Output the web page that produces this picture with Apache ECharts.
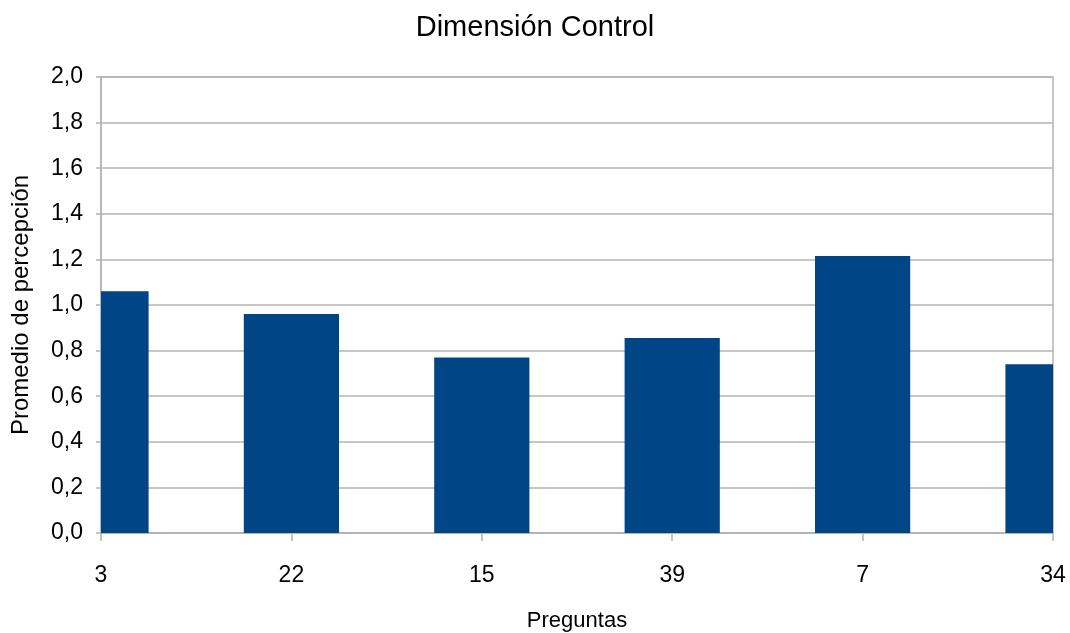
<!DOCTYPE html>
<html>
<head>
<meta charset="utf-8">
<script src="https://cdn.jsdelivr.net/npm/echarts@6/dist/echarts.min.js"></script>
<style>
  html, body { margin: 0; padding: 0; background: #ffffff; }
  #chart { width: 1070px; height: 633px; }
</style>
</head>
<body>
<div id="chart"></div>
<script>
// Question numbers along the x axis
const preguntas = ['3', '22', '15', '39', '7', '34'];
// Mean perception score per question
const promedios = [1.06, 0.96, 0.77, 0.855, 1.215, 0.74];
// Value axis range
const yMin = 0;
const yMax = 2.0;
const yStep = 0.2;

const FONT = '"Liberation Sans", Arial, sans-serif';
const GRID_GREY = '#b3b3b3';
const BAR_BLUE = '#004586';
const BAR_FRACTION = 0.5; // bar width as a share of the category spacing

const chart = echarts.init(document.getElementById('chart'), null, { renderer: 'canvas' });

// Bars centred on the category ticks, cut off at the plot edges
function renderBar(params, api) {
  const idx = api.value(0);
  const val = api.value(1);
  const top = api.coord([idx, val]);
  const base = api.coord([idx, yMin]);
  const bw = api.size([1, 0])[0] * BAR_FRACTION;
  const cs = params.coordSys;
  const shape = echarts.graphic.clipRectByRect(
    { x: top[0] - bw / 2, y: top[1], width: bw, height: base[1] - top[1] },
    { x: cs.x, y: cs.y, width: cs.width, height: cs.height }
  );
  return shape && { type: 'rect', shape: shape, style: { fill: BAR_BLUE } };
}

chart.setOption({
  backgroundColor: '#ffffff',
  animation: false,
  title: {
    text: 'Dimensión Control',
    left: 'center',
    top: 8,
    textStyle: { fontFamily: FONT, fontSize: 29, fontWeight: 'normal', color: '#000000' }
  },
  grid: {
    left: 101,
    right: 17,
    top: 77,
    bottom: 100,
    outerBoundsMode: 'none',
    containLabel: false,
    show: true,
    borderColor: GRID_GREY,
    borderWidth: 1.5
  },
  xAxis: {
    type: 'category',
    data: preguntas,
    boundaryGap: false,
    name: 'Preguntas',
    nameLocation: 'middle',
    nameGap: 77,
    nameTextStyle: { fontFamily: FONT, fontSize: 22, color: '#000000' },
    axisLine: { show: true, lineStyle: { color: GRID_GREY, width: 1.5 } },
    axisTick: { show: true, length: 8, lineStyle: { color: GRID_GREY, width: 1.5 } },
    axisLabel: { margin: 31, fontFamily: FONT, fontSize: 23, color: '#000000' },
    splitLine: { show: false }
  },
  yAxis: {
    type: 'value',
    min: yMin,
    max: yMax,
    interval: yStep,
    name: 'Promedio de percepción',
    nameLocation: 'middle',
    nameGap: 68,
    nameTextStyle: { fontFamily: FONT, fontSize: 24, color: '#000000' },
    axisLine: { show: true, lineStyle: { color: GRID_GREY, width: 1.5 } },
    axisTick: { show: true, length: 5, lineStyle: { color: GRID_GREY, width: 1.5 } },
    axisLabel: {
      margin: 18,
      fontFamily: FONT,
      fontSize: 23,
      color: '#000000',
      formatter: function (v) { return v.toFixed(1).replace('.', ','); }
    },
    splitLine: { show: true, lineStyle: { color: GRID_GREY, width: 1.5 } }
  },
  series: [{
    type: 'custom',
    renderItem: renderBar,
    encode: { x: 0, y: 1 },
    data: promedios.map(function (v, i) { return [i, v]; })
  }]
});
</script>
</body>
</html>
